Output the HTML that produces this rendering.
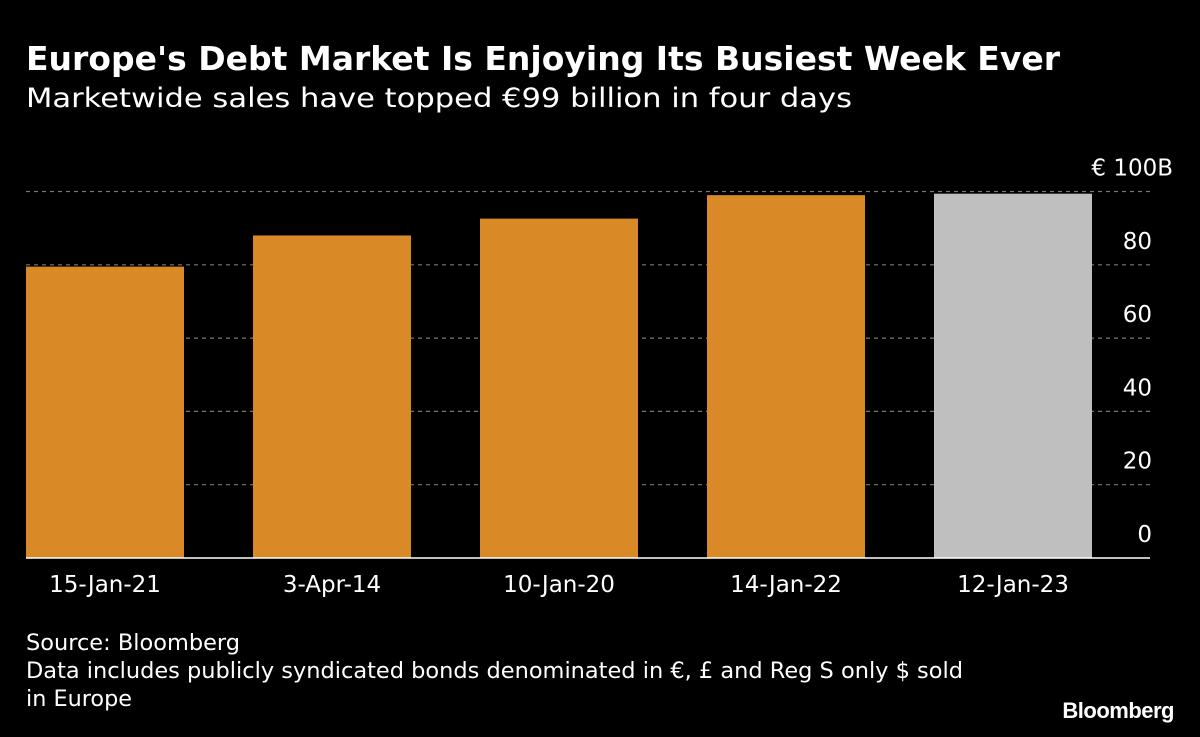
<!DOCTYPE html>
<html><head><meta charset="utf-8"><style>
body{margin:0;background:#000;width:1200px;height:733px;overflow:hidden;font-family:"DejaVu Sans","Liberation Sans",sans-serif;color:#fff}
</style></head><body>
<svg width="1200" height="733" id="svg" font-family="DejaVu Sans, Liberation Sans, sans-serif">
<text x="26" y="70" font-size="33" font-weight="bold" fill="#fff" textLength="1034" lengthAdjust="spacingAndGlyphs">Europe's Debt Market Is Enjoying Its Busiest Week Ever</text>
<text x="26" y="107" font-size="27" fill="#fff" textLength="826" lengthAdjust="spacingAndGlyphs">Marketwide sales have topped €99 billion in four days</text>
<g id="grid"></g><g id="bars"></g><g id="ticks"></g><g id="xlabels"></g>
<line x1="26" x2="1150" y1="558" y2="558" stroke="#fff" stroke-width="1.5"/>
<text x="26" y="650" font-size="22" fill="#fff" textLength="214" lengthAdjust="spacingAndGlyphs">Source: Bloomberg</text>
<text x="26" y="678" font-size="22" fill="#fff" textLength="937" lengthAdjust="spacingAndGlyphs">Data includes publicly syndicated bonds denominated in €, £ and Reg S only $ sold</text>
<text x="26" y="706" font-size="22" fill="#fff" textLength="106" lengthAdjust="spacingAndGlyphs">in Europe</text>
<text x="1174" y="718" font-size="22" font-weight="bold" fill="#fff" text-anchor="end" letter-spacing="-0.5" font-family="Liberation Sans, sans-serif">Bloomberg</text>
</svg>
<script>
const categories=["15-Jan-21","3-Apr-14","10-Jan-20","14-Jan-22","12-Jan-23"];
const values=[79.5,88,92.6,99,99.4];
const colors=["#d98a26","#d98a26","#d98a26","#d98a26","#bfbfbf"];
const tickValues=[0,20,40,60,80,100];
const tickLabels=["0","20","40","60","80","€ 100B"];
const NS="http://www.w3.org/2000/svg";
const y0=558,y100=191.5;
function yScale(v){return y0-(y0-y100)*v/100;}
function xScale(i){return 26+227*i;}
const bw=158;
function mk(tag,attrs,parent){const e=document.createElementNS(NS,tag);for(const k in attrs)e.setAttribute(k,attrs[k]);document.getElementById(parent).appendChild(e);return e;}
tickValues.forEach((t,i)=>{
 if(t>0){const l=mk('line',{x1:26,x2:1150,y1:yScale(t),y2:yScale(t),stroke:'#777','stroke-dasharray':'4,4','stroke-width':1.2},'grid');
 
 }
 const isTop=(i===tickValues.length-1);
 const tx=mk('text',{x:isTop?1173:1152,y:yScale(t)-16,'font-size':23,fill:'#fff','text-anchor':'end'},'ticks');
 tx.textContent=tickLabels[i];
 
 
});
categories.forEach((c,i)=>{
 const r=mk('rect',{x:xScale(i),y:yScale(values[i]),width:bw,height:y0-yScale(values[i]),fill:colors[i]},'bars');
 
 
 const t=mk('text',{x:xScale(i)+bw/2,y:592,'font-size':23,fill:'#fff','text-anchor':'middle'},'xlabels');
 t.textContent=c;
 
 
});
</script>
</body></html>
